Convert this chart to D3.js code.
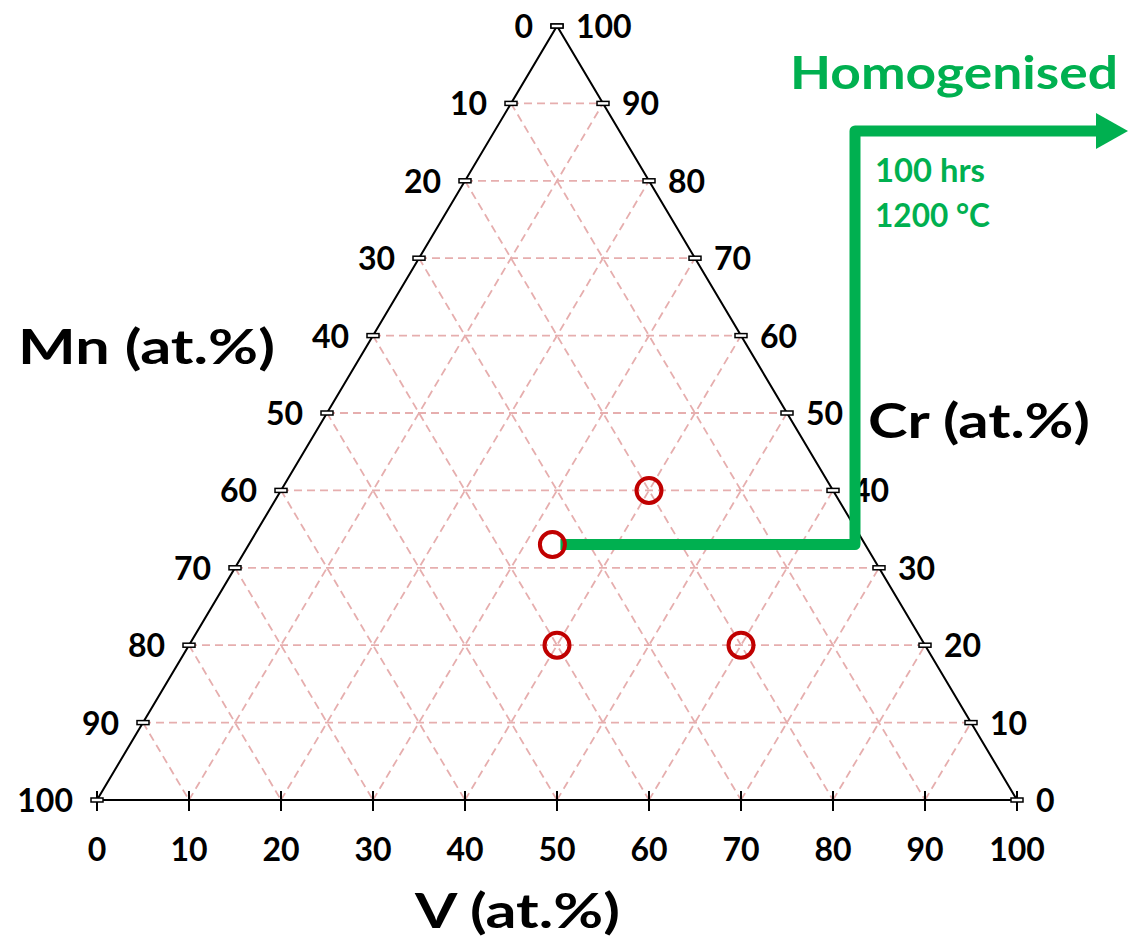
<!DOCTYPE html>
<html>
<head>
    <meta charset="utf-8">
    <script src="https://d3js.org/d3.v7.min.js"></script>
    <style>
        body { margin: 0; background: #fff; }
        .edge { stroke: #000; stroke-width: 2; fill: none; }
        .grid { stroke: #e6aeae; stroke-width: 1.8; stroke-dasharray: 8 5; fill: none; }
        .tick { stroke: #000; stroke-width: 2; }
        .tickbox { stroke: #000; stroke-width: 1.5; fill: #fff; }
        .label { font-family: Lato, sans-serif; font-weight: bold; font-size: 32px; fill: #000; }
        .title { font-family: Lato, sans-serif; font-weight: bold; font-size: 47px; fill: #000; }
        .green { font-family: Lato, sans-serif; font-weight: bold; fill: #00b050; }
    </style>
</head>
<body>
<script>
    // compositions (at.%) of the four alloys
    let vValues = [40, 33, 40, 60];
    let crValues = [40, 33, 20, 20];
    let mnValues = [20, 34, 40, 20];

    // tick levels and labels
    let levels = [0, 10, 20, 30, 40, 50, 60, 70, 80, 90, 100];
    let gridLevels = [10, 20, 30, 40, 50, 60, 70, 80, 90];

    let svg = d3.select("body").append("svg")
        .attr("width", 1129)
        .attr("height", 949);

    // horizontal position follows V + Cr/2, vertical follows Cr
    let x = d3.scaleLinear().domain([0, 100]).range([97, 1017]);
    let y = d3.scaleLinear().domain([0, 100]).range([800, 26]);

    function pt(v, cr) { return [x(v + cr / 2), y(cr)]; }

    // grid lines, one family per component
    let gridLines = [];
    gridLevels.forEach(function(k) {
        gridLines.push([pt(0, k), pt(100 - k, k)]);      // constant Cr
        gridLines.push([pt(k, 0), pt(k, 100 - k)]);      // constant V
        gridLines.push([pt(0, 100 - k), pt(100 - k, 0)]); // constant Mn
    });

    svg.selectAll(".grid")
        .data(gridLines)
        .enter().append("line")
        .attr("class", "grid")
        .attr("x1", d => d[0][0]).attr("y1", d => d[0][1])
        .attr("x2", d => d[1][0]).attr("y2", d => d[1][1]);

    // triangle outline
    svg.append("path")
        .attr("class", "edge")
        .attr("d", d3.line()([pt(0, 0), pt(100, 0), pt(0, 100)]) + "Z");

    // bottom axis ticks (V)
    svg.selectAll(".tick")
        .data(levels)
        .enter().append("line")
        .attr("class", "tick")
        .attr("x1", d => x(d)).attr("x2", d => x(d))
        .attr("y1", y(0) - 9).attr("y2", y(0) + 11);

    // side ticks, left (Mn) and right (Cr)
    let sideTicks = [];
    levels.forEach(function(k) {
        sideTicks.push(pt(0, 100 - k));
        sideTicks.push(pt(100 - k, k));
    });
    svg.selectAll(".tickbox")
        .data(sideTicks)
        .enter().append("rect")
        .attr("class", "tickbox")
        .attr("x", d => d[0] - 6).attr("y", d => d[1] - 2)
        .attr("width", 12).attr("height", 4);

    // bottom labels
    svg.selectAll(".vlab")
        .data(levels)
        .enter().append("text")
        .attr("class", "label")
        .attr("x", d => x(d))
        .attr("y", y(0) + 61)
        .attr("text-anchor", "middle")
        .text(d => d);

    // left labels (Mn)
    svg.selectAll(".mnlab")
        .data(levels)
        .enter().append("text")
        .attr("class", "label")
        .attr("x", d => pt(0, 100 - d)[0] - 24)
        .attr("y", d => pt(0, 100 - d)[1] + 12)
        .attr("text-anchor", "end")
        .text(d => d);

    // right labels (Cr)
    svg.selectAll(".crlab")
        .data(levels)
        .enter().append("text")
        .attr("class", "label")
        .attr("x", d => pt(100 - d, d)[0] + 19)
        .attr("y", d => pt(100 - d, d)[1] + 12)
        .attr("text-anchor", "start")
        .text(d => d);

    // axis titles
    svg.append("text").attr("class", "title")
        .attr("x", 18).attr("y", 364)
        .attr("textLength", 257).attr("lengthAdjust", "spacingAndGlyphs")
        .text("Mn (at.%)");
    svg.append("text").attr("class", "title")
        .attr("x", 868).attr("y", 438)
        .attr("textLength", 222).attr("lengthAdjust", "spacingAndGlyphs")
        .text("Cr (at.%)");
    svg.append("text").attr("class", "title")
        .attr("x", 415).attr("y", 928)
        .attr("textLength", 205).attr("lengthAdjust", "spacingAndGlyphs")
        .text("V (at.%)");

    // homogenisation annotation
    let start = pt(vValues[1], crValues[1]);
    svg.append("path")
        .attr("d", d3.line()([[start[0] + 8, start[1]], [855, start[1]], [855, 131], [1098, 131]]))
        .attr("fill", "none")
        .attr("stroke", "#00b050")
        .attr("stroke-width", 11)
        .attr("stroke-linejoin", "round");
    svg.append("path")
        .attr("d", "M1096,113L1128,131L1096,149Z")
        .attr("fill", "#00b050");

    svg.append("text").attr("class", "green")
        .attr("x", 790).attr("y", 89)
        .style("font-size", "46px")
        .attr("textLength", 328).attr("lengthAdjust", "spacingAndGlyphs")
        .text("Homogenised");
    svg.append("text").attr("class", "green")
        .attr("x", 875).attr("y", 182)
        .style("font-size", "33px")
        .attr("textLength", 110).attr("lengthAdjust", "spacingAndGlyphs")
        .text("100 hrs");
    svg.append("text").attr("class", "green")
        .attr("x", 875).attr("y", 227)
        .style("font-size", "33px")
        .attr("textLength", 115).attr("lengthAdjust", "spacingAndGlyphs")
        .text("1200 °C");

    // alloy compositions
    svg.selectAll(".alloy")
        .data(vValues)
        .enter().append("circle")
        .attr("class", "alloy")
        .attr("cx", (d, i) => pt(d, crValues[i])[0])
        .attr("cy", (d, i) => pt(d, crValues[i])[1])
        .attr("r", 12.5)
        .attr("fill", "none")
        .attr("stroke", "#c00000")
        .attr("stroke-width", 4);
</script>
</body>
</html>
